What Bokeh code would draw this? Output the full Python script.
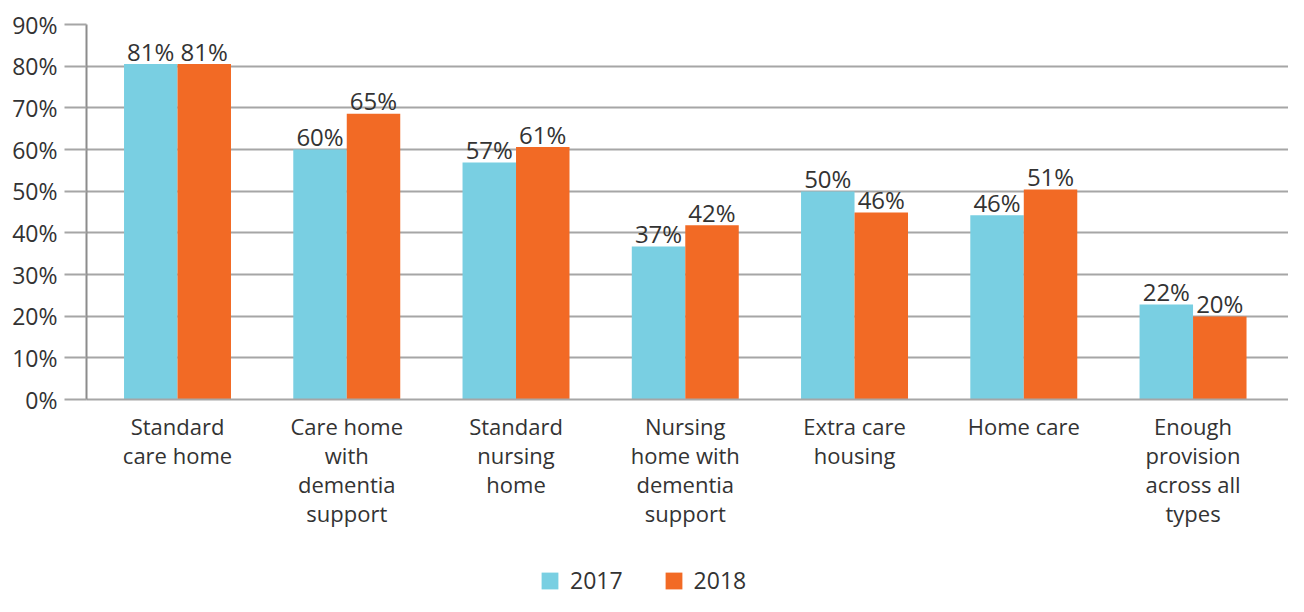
from bokeh.plotting import figure
from bokeh.layouts import column
from bokeh.models import (ColumnDataSource, FixedTicker, PrintfTickFormatter, Range1d,
                          Legend, LegendItem)
from bokeh.transform import dodge
from bokeh.core.properties import value
from bokeh.embed import file_html
from bokeh.resources import INLINE

categories = ["Standard\ncare home", "Care home\nwith\ndementia\nsupport", "Standard\nnursing\nhome",
              "Nursing\nhome with\ndementia\nsupport", "Extra care\nhousing", "Home care",
              "Enough\nprovision\nacross all\ntypes"]
series = ["2017", "2018"]
values_2017 = [80.5, 60.0, 56.9, 36.7, 49.9, 44.2, 22.8]
values_2018 = [80.5, 68.6, 60.6, 41.8, 44.9, 50.4, 19.9]
labels_2017 = ["81%", "60%", "57%", "37%", "50%", "46%", "22%"]
labels_2018 = ["81%", "65%", "61%", "42%", "46%", "51%", "20%"]
y_ticks = [0, 10, 20, 30, 40, 50, 60, 70, 80, 90]

C17 = "#79CFE2"
C18 = "#F26A25"
TXT = "#333333"
GRID = "#a6a6a6"
FONT = "Open Sans"

idx = list(range(len(categories)))
src = ColumnDataSource(dict(x=idx, v17=values_2017, v18=values_2018, l17=labels_2017, l18=labels_2018))

p = figure(width=1288, height=560, output_backend="svg", toolbar_location=None,
           x_range=Range1d(-0.5377, 6.564), y_range=Range1d(0, 90),
           min_border_left=86, min_border_right=0, min_border_top=24, min_border_bottom=161)
p.outline_line_color = None

bw = 0.316
r17 = p.vbar(x=dodge("x", -bw / 2, range=p.x_range), top="v17", width=bw, source=src,
             fill_color=C17, line_color=None)
r18 = p.vbar(x=dodge("x", bw / 2, range=p.x_range), top="v18", width=bw, source=src,
             fill_color=C18, line_color=None)

for off, vcol, lcol in [(-bw / 2, "v17", "l17"), (bw / 2, "v18", "l18")]:
    p.text(x=dodge("x", off, range=p.x_range), y=vcol, text=lcol, source=src,
           text_align="center", text_baseline="alphabetic", y_offset=-13,
           text_font=value(FONT), text_font_size="24px", text_color=TXT)

# y axis
p.yaxis.ticker = FixedTicker(ticks=y_ticks)
p.yaxis.formatter = PrintfTickFormatter(format="%d%%")
p.yaxis.major_tick_out = 22
p.yaxis.major_tick_in = 0
p.yaxis.minor_tick_line_color = None
p.yaxis.major_tick_line_color = GRID
p.yaxis.major_tick_line_width = 2
p.yaxis.axis_line_color = "#8c8c8c"
p.yaxis.axis_line_width = 2
p.yaxis.major_label_standoff = 7
p.yaxis.major_label_text_font = FONT
p.yaxis.major_label_text_font_size = "23px"
p.yaxis.major_label_text_color = TXT

p.ygrid.ticker = FixedTicker(ticks=y_ticks)
p.ygrid.grid_line_color = GRID
p.ygrid.grid_line_width = 2
p.xgrid.grid_line_color = None

# x axis
p.xaxis.ticker = FixedTicker(ticks=idx)
p.xaxis.major_label_overrides = {i: c for i, c in zip(idx, categories)}
p.xaxis.major_tick_line_color = None
p.xaxis.minor_tick_line_color = None
p.xaxis.axis_line_color = GRID
p.xaxis.axis_line_width = 2
p.xaxis.major_label_standoff = 5
p.xaxis.major_label_text_font = FONT
p.xaxis.major_label_text_font_size = "22px"
p.xaxis.major_label_text_color = TXT
p.xaxis.major_label_text_line_height = 0.97

# legend strip
pl = figure(width=1288, height=36, output_backend="svg", toolbar_location=None,
            x_range=Range1d(0, 1), y_range=Range1d(0, 1), min_border=0,
            x_axis_location=None, y_axis_location=None)
pl.grid.grid_line_color = None
pl.outline_line_color = None
lr17 = pl.vbar(x=[0.5], top=[0], bottom=[0], width=0.01, fill_color=C17, line_color=None)
lr18 = pl.vbar(x=[0.5], top=[0], bottom=[0], width=0.01, fill_color=C18, line_color=None)
legend = Legend(items=[LegendItem(label=series[0], renderers=[lr17]),
                       LegendItem(label=series[1], renderers=[lr18])],
                location=(453, 0), orientation="horizontal",
                padding=0, margin=0, spacing=40, glyph_width=21, glyph_height=21,
                label_standoff=10, label_height=21, label_text_font=FONT,
                label_text_font_size="23px", label_text_color=TXT,
                border_line_alpha=0, background_fill_alpha=0)
pl.add_layout(legend, "center")

layout = column(p, pl, spacing=0)
open("out.html", "w").write(file_html(layout, INLINE))
